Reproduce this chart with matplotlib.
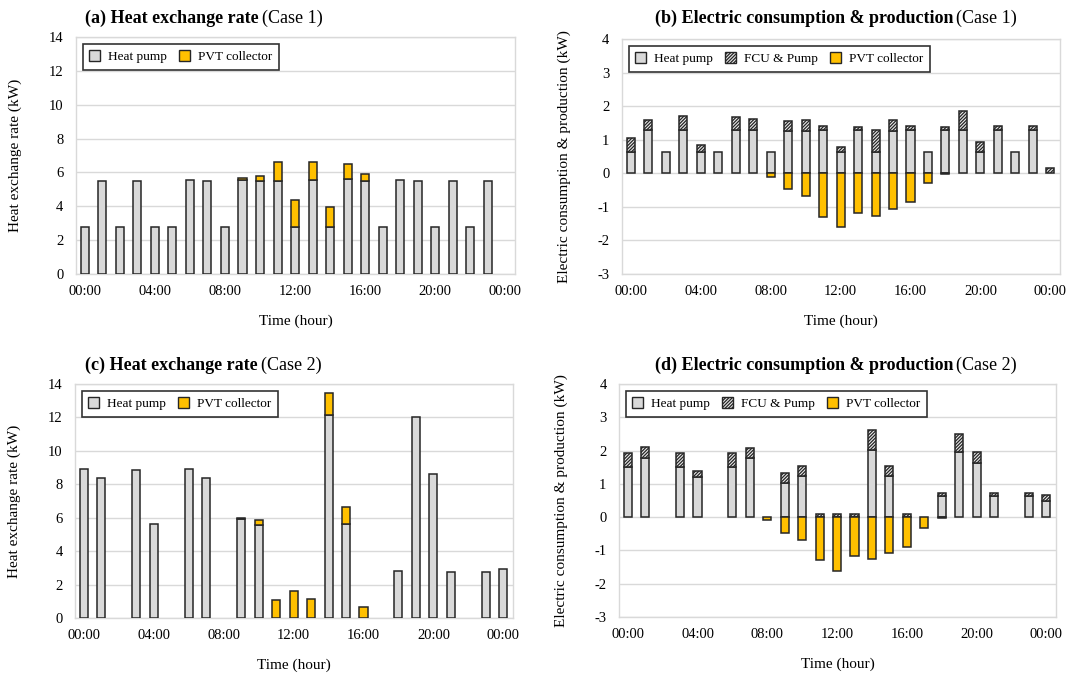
import numpy as np
import matplotlib
matplotlib.use("Agg")
import matplotlib.pyplot as plt
from matplotlib.patches import Patch

plt.rcParams['font.family'] = ['Liberation Serif', 'DejaVu Serif']
plt.rcParams['hatch.linewidth'] = 0.9
plt.rcParams['axes.unicode_minus'] = False

# ---- data ----
tick_hours = [0, 4, 8, 12, 16, 20, 24]
tick_labels = ['00:00', '04:00', '08:00', '12:00', '16:00', '20:00', '00:00']

# (a) heat exchange rate, case 1 (hours 0-23)
hp_a = [2.8, 5.5, 2.8, 5.5, 2.8, 2.75, 5.55, 5.5, 2.75, 5.55, 5.5, 5.5,
        2.8, 5.55, 2.75, 5.6, 5.5, 2.8, 5.55, 5.5, 2.8, 5.5, 2.8, 5.5]
pvt_a = [0, 0, 0, 0, 0, 0, 0, 0, 0, 0.1, 0.27, 1.13,
         1.57, 1.06, 1.18, 0.9, 0.4, 0, 0, 0, 0, 0, 0, 0]

# (b) electric consumption & production, case 1 (hours 0-24)
hp_b = [0.62, 1.3, 0.64, 1.3, 0.64, 0.64, 1.29, 1.3, 0.64, 1.25, 1.27, 1.3,
        0.64, 1.29, 0.64, 1.27, 1.3, 0.64, 1.29, 1.3, 0.62, 1.29, 0.64, 1.29, 0]
fcu_b = [0.42, 0.3, 0, 0.4, 0.2, 0, 0.39, 0.31, 0, 0.3, 0.31, 0.1,
         0.13, 0.09, 0.64, 0.31, 0.12, 0, 0.09, 0.57, 0.32, 0.11, 0, 0.11, 0.17]
pvt_b = [0, 0, 0, 0, 0, 0, 0, 0, -0.1, -0.48, -0.67, -1.31,
         -1.6, -1.17, -1.26, -1.06, -0.87, -0.3, -0.03, 0, 0, 0, 0, 0, 0]

# (c) heat exchange rate, case 2 (hours 0-24)
hp_c = [8.9, 8.4, 0, 8.85, 5.6, 0, 8.9, 8.4, 0, 5.9, 5.55, 0,
        0, 0, 12.15, 5.6, 0, 0, 2.8, 12.0, 8.6, 2.75, 0, 2.75, 2.95]
pvt_c = [0, 0, 0, 0, 0, 0, 0, 0, 0, 0.1, 0.33, 1.05,
         1.6, 1.15, 1.3, 1.05, 0.65, 0, 0, 0, 0, 0, 0, 0, 0]

# (d) electric consumption & production, case 2 (hours 0-24)
hp_d = [1.5, 1.79, 0, 1.52, 1.2, 0, 1.5, 1.77, 0, 1.02, 1.25, 0,
        0, 0, 2.03, 1.25, 0, 0, 0.63, 1.97, 1.64, 0.63, 0, 0.64, 0.49]
fcu_d = [0.42, 0.33, 0, 0.42, 0.2, 0, 0.42, 0.32, 0, 0.31, 0.3, 0.1,
         0.1, 0.1, 0.58, 0.3, 0.1, 0, 0.09, 0.54, 0.32, 0.09, 0, 0.1, 0.17]
pvt_d = [0, 0, 0, 0, 0, 0, 0, 0, -0.1, -0.47, -0.69, -1.3,
         -1.61, -1.18, -1.26, -1.08, -0.9, -0.32, -0.03, 0, 0, 0, 0, 0, 0]

HP_COLOR = '#d9d9d9'
PVT_COLOR = '#ffc000'
EDGE = '#262626'
GRID = '#d9d9d9'
HATCH = '//////////'
WIDTH = 0.46


def draw_bars(ax, vals, bottom=None, **kw):
    """Draw only the non-zero bars so empty hours stay empty."""
    vals = np.asarray(vals, dtype=float)
    x = np.arange(len(vals))
    if bottom is None:
        bottom = np.zeros_like(vals)
    bottom = np.asarray(bottom, dtype=float)
    keep = vals != 0
    ax.bar(x[keep], vals[keep], WIDTH, bottom=bottom[keep],
           edgecolor=EDGE, linewidth=1.1, zorder=3, **kw)


def style_axes(ax, ylim, yticks, ylabel):
    ax.set_xlim(-0.5, 24.55)
    ax.set_ylim(*ylim)
    ax.set_yticks(yticks)
    ax.set_xticks(tick_hours)
    ax.set_xticklabels(tick_labels)
    ax.tick_params(length=0, labelsize=10.5)
    ax.tick_params(axis='x', pad=8)
    ax.tick_params(axis='y', pad=9)
    ax.yaxis.grid(True, color=GRID, linewidth=1.0, zorder=0)
    ax.set_axisbelow(True)
    for s in ax.spines.values():
        s.set_color(GRID)
        s.set_linewidth(1.0)
    ax.set_xlabel('Time (hour)', fontsize=11, labelpad=12)
    ax.set_ylabel(ylabel, fontsize=11, labelpad=19)


def add_legend(ax, three):
    handles = [Patch(facecolor=HP_COLOR, edgecolor=EDGE, label='Heat pump')]
    if three:
        handles.append(Patch(facecolor='#e8e8e8', edgecolor=EDGE, hatch=HATCH,
                             label='FCU & Pump'))
    handles.append(Patch(facecolor=PVT_COLOR, edgecolor=EDGE, label='PVT collector'))
    leg = ax.legend(handles=handles, loc='upper left', ncol=len(handles),
                    fontsize=9.5, frameon=True, fancybox=False,
                    handlelength=0.85, handleheight=0.85, handletextpad=0.6,
                    columnspacing=0.9, borderpad=0.5, borderaxespad=0.5)
    leg.get_frame().set_edgecolor('black')
    leg.get_frame().set_linewidth(1.2)


fig = plt.figure(figsize=(10.69, 6.73), dpi=100)
W, H = 1069, 673


def axes_px(left, top, right, bottom):
    return fig.add_axes([left / W, 1 - bottom / H, (right - left) / W, (bottom - top) / H])


ax_a = axes_px(76, 37, 515, 274)
ax_b = axes_px(622, 39, 1060, 274)
ax_c = axes_px(75, 384, 513, 618)
ax_d = axes_px(619, 384, 1056, 617)

# (a)
draw_bars(ax_a, hp_a, color=HP_COLOR)
draw_bars(ax_a, pvt_a, bottom=hp_a, color=PVT_COLOR)
style_axes(ax_a, (0, 14), range(0, 15, 2), 'Heat exchange rate (kW)')
add_legend(ax_a, False)

# (b)
draw_bars(ax_b, hp_b, color=HP_COLOR)
draw_bars(ax_b, fcu_b, bottom=hp_b, color='#e8e8e8', hatch=HATCH)
draw_bars(ax_b, pvt_b, color=PVT_COLOR)
style_axes(ax_b, (-3, 4), range(-3, 5), 'Electric consumption & production (kW)')
add_legend(ax_b, True)

# (c)
draw_bars(ax_c, hp_c, color=HP_COLOR)
draw_bars(ax_c, pvt_c, bottom=hp_c, color=PVT_COLOR)
style_axes(ax_c, (0, 14), range(0, 15, 2), 'Heat exchange rate (kW)')
add_legend(ax_c, False)

# (d)
draw_bars(ax_d, hp_d, color=HP_COLOR)
draw_bars(ax_d, fcu_d, bottom=hp_d, color='#e8e8e8', hatch=HATCH)
draw_bars(ax_d, pvt_d, color=PVT_COLOR)
style_axes(ax_d, (-3, 4), range(-3, 5), 'Electric consumption & production (kW)')
add_legend(ax_d, True)

# panel titles: bold part followed by a regular part
titles = [
    (85, 18, '(a) Heat exchange rate', 'Case 1'),
    (655, 18, '(b) Electric consumption & production', 'Case 1'),
    (85, 365, '(c) Heat exchange rate', 'Case 2'),
    (655, 365, '(d) Electric consumption & production', 'Case 2'),
]
renderer = fig.canvas.get_renderer()
for x, y, bold, normal in titles:
    t = fig.text(x / W, 1 - y / H, bold, fontsize=13, fontweight='bold',
                 ha='left', va='center')
    bb = t.get_window_extent(renderer)
    fig.text((bb.x1 + 3) / W, 1 - y / H, '(' + normal + ')', fontsize=13,
             ha='left', va='center')

fig.savefig('out.png', dpi=100)
